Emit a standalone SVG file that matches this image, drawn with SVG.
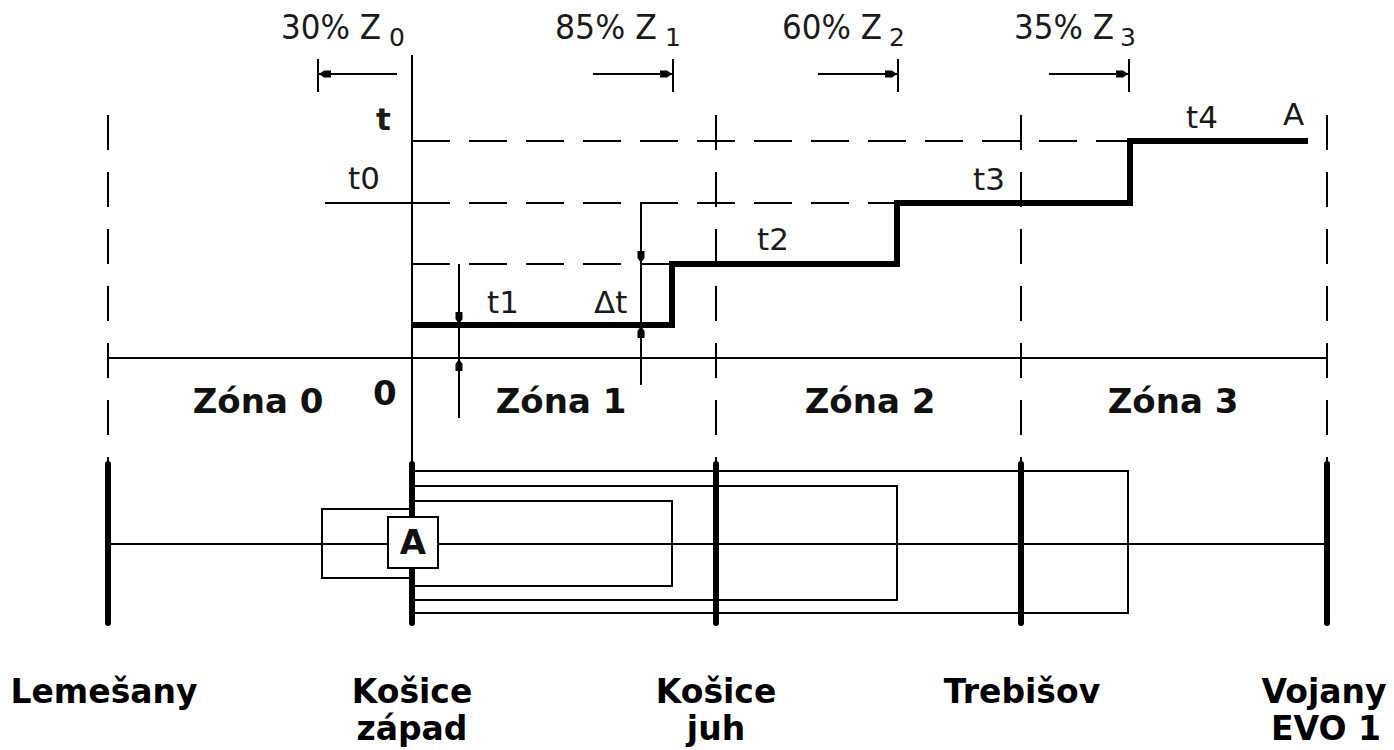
<svg xmlns="http://www.w3.org/2000/svg" width="1394" height="750" viewBox="0 0 1394 750">
<style>
  .thin{stroke:#000;stroke-width:2;fill:none}
  .hdash{stroke:#000;stroke-width:2;fill:none;stroke-dasharray:38 19}
  .vdash{stroke:#000;stroke-width:2;fill:none;stroke-dasharray:35 22}
  .step{stroke:#000;stroke-width:6;fill:none;stroke-linejoin:miter}
  .bar{stroke:#000;stroke-width:6;stroke-linecap:round}
  .lbl{font-family:"DejaVu Sans",sans-serif;font-size:31px;fill:#1a1a1a}
  .top{font-family:"DejaVu Sans",sans-serif;font-size:33px;fill:#1a1a1a}
  .sub{font-family:"DejaVu Sans",sans-serif;font-size:25px;fill:#1a1a1a}
  .bold{font-family:"DejaVu Sans",sans-serif;font-weight:bold;font-size:34px;fill:#111}
  .name{font-family:"DejaVu Sans",sans-serif;font-weight:bold;font-size:33px;fill:#000;text-anchor:middle}
</style>
<defs>
  <marker id="ar" viewBox="-14 -5 15 10" refX="0" refY="0" markerWidth="15" markerHeight="10" markerUnits="userSpaceOnUse" orient="auto">
    <path d="M0,0 L-5,-3.5 L-12,-3.5 L-12,3.5 L-5,3.5 Z" fill="#000"/>
  </marker>
</defs>

<!-- zone boundary lines -->
<g id="boundaries">
  <line class="vdash" x1="108" y1="115" x2="108" y2="462"/>
  <line class="vdash" x1="716" y1="115" x2="716" y2="462"/>
  <line class="vdash" x1="1021" y1="115" x2="1021" y2="462"/>
  <line class="vdash" x1="1327" y1="115" x2="1327" y2="462"/>
  <line class="thin" x1="412" y1="55" x2="412" y2="625"/>
</g>

<!-- time axis and levels -->
<g id="axes">
  <line class="thin" x1="108" y1="358" x2="1327" y2="358"/>
  <line class="hdash" x1="412" y1="141" x2="1130" y2="141"/>
  <line class="thin" x1="325" y1="203" x2="412" y2="203"/>
  <line class="hdash" x1="412" y1="203" x2="897" y2="203"/>
  <line class="hdash" x1="412" y1="264" x2="672" y2="264"/>
</g>

<!-- step characteristic -->
<g id="characteristic">
  <path class="step" d="M412,325 H672 V264 H897 V203 H1130 V141 H1308"/>
</g>

<!-- dimension markers -->
<g id="dimensions">
  <line class="thin" x1="318" y1="59" x2="318" y2="92"/>
  <line class="thin" x1="397" y1="74" x2="319" y2="74" marker-end="url(#ar)"/>
  <line class="thin" x1="673" y1="59" x2="673" y2="92"/>
  <line class="thin" x1="593" y1="74" x2="672" y2="74" marker-end="url(#ar)"/>
  <line class="thin" x1="898" y1="59" x2="898" y2="92"/>
  <line class="thin" x1="818" y1="74" x2="897" y2="74" marker-end="url(#ar)"/>
  <line class="thin" x1="1129" y1="59" x2="1129" y2="92"/>
  <line class="thin" x1="1049" y1="74" x2="1128" y2="74" marker-end="url(#ar)"/>

  <line class="thin" x1="459" y1="264" x2="459" y2="418"/>
  <line class="thin" x1="459" y1="295" x2="459" y2="324" marker-end="url(#ar)"/>
  <line class="thin" x1="459" y1="390" x2="459" y2="359" marker-end="url(#ar)"/>

  <line class="thin" x1="641" y1="203" x2="641" y2="385"/>
  <line class="thin" x1="641" y1="235" x2="641" y2="263" marker-end="url(#ar)"/>
  <line class="thin" x1="641" y1="355" x2="641" y2="326" marker-end="url(#ar)"/>
</g>

<!-- labels -->
<g id="labels">
  <text class="top" x="281" y="39" textLength="100" lengthAdjust="spacingAndGlyphs">30% Z</text><text class="sub" x="389" y="46">0</text>
  <text class="top" x="555" y="39" textLength="102" lengthAdjust="spacingAndGlyphs">85% Z</text><text class="sub" x="665" y="46">1</text>
  <text class="top" x="782" y="39" textLength="100" lengthAdjust="spacingAndGlyphs">60% Z</text><text class="sub" x="889" y="46">2</text>
  <text class="top" x="1014" y="39" textLength="100" lengthAdjust="spacingAndGlyphs">35% Z</text><text class="sub" x="1120" y="46">3</text>

  <text class="lbl" x="376" y="130" font-weight="bold">t</text>
  <text class="lbl" x="348" y="189">t0</text>
  <text class="lbl" x="487" y="313">t1</text>
  <text class="lbl" x="594" y="313">Δt</text>
  <text class="lbl" x="757" y="250">t2</text>
  <text class="lbl" x="973" y="190">t3</text>
  <text class="lbl" x="1186" y="128">t4</text>
  <text class="lbl" x="1283" y="125">A</text>

  <text class="bold" x="373" y="405" font-size="32">0</text>
  <text class="bold" x="258" y="413" text-anchor="middle">Zóna 0</text>
  <text class="bold" x="561" y="413" text-anchor="middle">Zóna 1</text>
  <text class="bold" x="870" y="413" text-anchor="middle">Zóna 2</text>
  <text class="bold" x="1173" y="413" text-anchor="middle">Zóna 3</text>
</g>

<!-- line and reach zones -->
<g id="reach">
  <line class="thin" x1="108" y1="544" x2="1327" y2="544"/>
  <path class="thin" d="M412,509 H322 V578 H412"/>
  <path class="thin" d="M412,501 H672 V586 H412"/>
  <path class="thin" d="M412,486 H897 V600 H412"/>
  <path class="thin" d="M412,471 H1128 V613 H412"/>
</g>

<!-- substations -->
<g id="sub-lemesany">
  <line class="bar" x1="108" y1="464" x2="108" y2="623"/>
  <text class="name" x="104" y="703">Lemešany</text>
</g>
<g id="sub-kosice-zapad">
  <line class="bar" x1="412" y1="464" x2="412" y2="623"/>
  <text class="name" x="412" y="703">Košice</text>
  <text class="name" x="412" y="740">západ</text>
</g>
<g id="sub-kosice-juh">
  <line class="bar" x1="716" y1="464" x2="716" y2="623"/>
  <text class="name" x="716" y="703">Košice</text>
  <text class="name" x="716" y="740">juh</text>
</g>
<g id="sub-trebisov">
  <line class="bar" x1="1021" y1="464" x2="1021" y2="623"/>
  <text class="name" x="1022" y="703">Trebišov</text>
</g>
<g id="sub-vojany">
  <line class="bar" x1="1327" y1="464" x2="1327" y2="623"/>
  <text class="name" x="1324" y="703">Vojany</text>
  <text class="name" x="1326" y="740">EVO 1</text>
</g>

<!-- relay A -->
<g id="relay-a">
  <rect x="388" y="517" width="50" height="51" fill="#fff" stroke="#000" stroke-width="2"/>
  <text class="bold" x="413" y="554" font-size="28" text-anchor="middle">A</text>
</g>
</svg>
